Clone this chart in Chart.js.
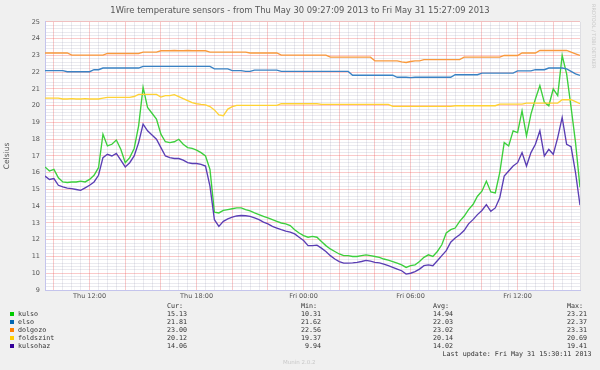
<!DOCTYPE html>
<html>
<head>
<meta charset="utf-8">
<script src="https://cdn.jsdelivr.net/npm/chart.js@4.4.0/dist/chart.umd.min.js"></script>
<style>
  html, body { margin: 0; padding: 0; background: #f0f0f0; }
  #wrap { position: relative; width: 600px; height: 370px; overflow: hidden; }
  #chart { position: absolute; left: 0; top: 0; }
  .lg { position: absolute; font-family: 'DejaVu Sans Mono', monospace; font-size: 6.7px; line-height: 8px; color: #333; white-space: pre; }
  .sw { position: absolute; width: 4px; height: 4px; }
  #rrd { position: absolute; left: 591px; top: 4px; writing-mode: vertical-rl; font-family: 'DejaVu Sans', sans-serif; font-size: 5px; line-height: 6px; color: #c8c8c8; white-space: nowrap; }
  #munin { position: absolute; left: 283px; top: 359px; font-family: 'DejaVu Sans', sans-serif; font-size: 5.5px; line-height: 7px; color: #c8c8c8; }
</style>
</head>
<body>
<div id="wrap">
  <canvas id="chart" width="600" height="370"></canvas>
  <div id="legend"></div>
  <div id="rrd">RRDTOOL / TOBI OETIKER</div>
  <div id="munin">Munin 2.0.2</div>
</div>
<script>
// hours since Thu May 30 00:00, sampled every 15 minutes
const hours = [
  9.5, 9.75, 10, 10.25, 10.5, 10.75, 11, 11.25, 11.5, 11.75,
  12, 12.25, 12.5, 12.75, 13, 13.25, 13.5, 13.75, 14, 14.25,
  14.5, 14.75, 15, 15.25, 15.5, 15.75, 16, 16.25, 16.5, 16.75,
  17, 17.25, 17.5, 17.75, 18, 18.25, 18.5, 18.75, 19, 19.25,
  19.5, 19.75, 20, 20.25, 20.5, 20.75, 21, 21.25, 21.5, 21.75,
  22, 22.25, 22.5, 22.75, 23, 23.25, 23.5, 23.75, 24, 24.25,
  24.5, 24.75, 25, 25.25, 25.5, 25.75, 26, 26.25, 26.5, 26.75,
  27, 27.25, 27.5, 27.75, 28, 28.25, 28.5, 28.75, 29, 29.25,
  29.5, 29.75, 30, 30.25, 30.5, 30.75, 31, 31.25, 31.5, 31.75,
  32, 32.25, 32.5, 32.75, 33, 33.25, 33.5, 33.75, 34, 34.25,
  34.5, 34.75, 35, 35.25, 35.5, 35.75, 36, 36.25, 36.5, 36.75,
  37, 37.25, 37.5, 37.75, 38, 38.25, 38.5, 38.75, 39, 39.25,
  39.5
];

const kulso = [
  16.35, 16.1, 16.2, 15.7, 15.45, 15.42, 15.45, 15.45, 15.5, 15.45,
  15.6, 15.85, 16.3, 18.3, 17.6, 17.7, 17.95, 17.4, 16.6, 16.9,
  17.45, 18.8, 21.1, 19.9, 19.55, 19.2, 18.3, 17.85, 17.8, 17.85,
  18.0, 17.7, 17.5, 17.45, 17.35, 17.2, 17.0, 16.2, 13.65, 13.6,
  13.75, 13.8, 13.85, 13.9, 13.9, 13.8, 13.72, 13.6, 13.5, 13.4,
  13.3, 13.2, 13.1, 13.0, 12.95, 12.85, 12.6, 12.4, 12.25, 12.15,
  12.2, 12.15, 11.9, 11.65, 11.45, 11.3, 11.15, 11.05, 11.05, 11.0,
  11.0, 11.05, 11.1, 11.05, 11.0, 10.95, 10.85, 10.78, 10.7, 10.6,
  10.5, 10.35, 10.45, 10.5, 10.7, 10.95, 11.1, 11.0, 11.3, 11.7,
  12.4, 12.6, 12.7, 13.1, 13.4, 13.8, 14.1, 14.6, 14.9, 15.5,
  14.85, 14.8, 16.0, 17.8, 17.6, 18.5, 18.4, 19.7, 18.2, 19.5,
  20.4, 21.2, 20.2, 20.0, 21.0, 20.6, 23.0, 21.9, 19.9, 17.8,
  15.13
];

const elso = [
  22.1, 22.1, 22.1, 22.1, 22.1, 22.03, 22.03, 22.03, 22.03, 22.03,
  22.03, 22.15, 22.15, 22.25, 22.25, 22.25, 22.25, 22.25, 22.25, 22.25,
  22.25, 22.25, 22.35, 22.35, 22.35, 22.35, 22.35, 22.35, 22.35, 22.35,
  22.35, 22.35, 22.35, 22.35, 22.35, 22.35, 22.35, 22.35, 22.2, 22.2,
  22.2, 22.2, 22.1, 22.1, 22.1, 22.05, 22.05, 22.13, 22.13, 22.13,
  22.13, 22.13, 22.13, 22.05, 22.05, 22.05, 22.05, 22.05, 22.05, 22.05,
  22.05, 22.05, 22.05, 22.05, 22.05, 22.05, 22.05, 22.05, 22.05, 21.82,
  21.82, 21.82, 21.82, 21.82, 21.82, 21.82, 21.82, 21.82, 21.82, 21.7,
  21.7, 21.7, 21.68, 21.7, 21.7, 21.7, 21.7, 21.7, 21.7, 21.7,
  21.7, 21.7, 21.85, 21.85, 21.85, 21.85, 21.85, 21.85, 21.95, 21.95,
  21.95, 21.95, 21.95, 21.95, 21.95, 21.95, 22.08, 22.08, 22.08, 22.08,
  22.15, 22.15, 22.15, 22.25, 22.25, 22.25, 22.25, 22.2, 22.05, 21.9,
  21.81
];

const dolgozo = [
  23.15, 23.15, 23.15, 23.15, 23.15, 23.15, 23.02, 23.02, 23.02, 23.02,
  23.02, 23.02, 23.02, 23.02, 23.12, 23.12, 23.12, 23.12, 23.12, 23.12,
  23.12, 23.12, 23.2, 23.2, 23.2, 23.2, 23.28, 23.28, 23.28, 23.3,
  23.28, 23.28, 23.3, 23.28, 23.28, 23.28, 23.28, 23.2, 23.2, 23.2,
  23.2, 23.2, 23.2, 23.2, 23.2, 23.2, 23.15, 23.15, 23.15, 23.15,
  23.15, 23.15, 23.15, 23.02, 23.02, 23.02, 23.02, 23.02, 23.02, 23.02,
  23.02, 23.02, 23.02, 23.02, 22.9, 22.9, 22.9, 22.9, 22.9, 22.9,
  22.9, 22.9, 22.9, 22.9, 22.68, 22.68, 22.68, 22.68, 22.68, 22.68,
  22.62, 22.58, 22.64, 22.68, 22.68, 22.75, 22.75, 22.75, 22.75, 22.75,
  22.75, 22.75, 22.75, 22.75, 22.9, 22.9, 22.9, 22.9, 22.9, 22.9,
  22.9, 22.9, 22.9, 23.0, 23.0, 23.0, 23.0, 23.15, 23.15, 23.15,
  23.15, 23.3, 23.3, 23.3, 23.3, 23.3, 23.3, 23.3, 23.2, 23.1,
  23.0
];

const foldszint = [
  20.45, 20.45, 20.45, 20.45, 20.4, 20.4, 20.42, 20.4, 20.4, 20.42,
  20.4, 20.4, 20.4, 20.45, 20.5, 20.5, 20.5, 20.5, 20.5, 20.5,
  20.55, 20.68, 20.68, 20.68, 20.68, 20.68, 20.52, 20.6, 20.6, 20.66,
  20.55, 20.42, 20.3, 20.18, 20.12, 20.08, 20.05, 19.95, 19.75, 19.45,
  19.4, 19.8, 19.95, 20.02, 20.02, 20.02, 20.02, 20.02, 20.02, 20.02,
  20.02, 20.02, 20.02, 20.12, 20.12, 20.12, 20.12, 20.12, 20.12, 20.12,
  20.12, 20.12, 20.08, 20.08, 20.08, 20.08, 20.08, 20.08, 20.08, 20.08,
  20.08, 20.08, 20.08, 20.08, 20.08, 20.08, 20.08, 20.08, 19.96, 19.96,
  19.96, 19.96, 19.96, 19.96, 19.96, 19.96, 19.96, 19.96, 19.96, 19.96,
  19.96, 19.96, 20.0, 20.0, 20.0, 20.0, 20.0, 20.0, 20.0, 20.0,
  20.0, 20.0, 20.1, 20.1, 20.1, 20.1, 20.1, 20.1, 20.16, 20.16,
  20.16, 20.16, 20.16, 20.16, 20.16, 20.16, 20.36, 20.36, 20.36, 20.25,
  20.12
];

const kulsohaz = [
  15.8, 15.6, 15.65, 15.25, 15.15, 15.08, 15.05, 15.0, 14.95, 15.1,
  15.25, 15.45, 15.85, 16.9, 17.1, 17.0, 17.15, 16.75, 16.35, 16.6,
  17.0, 17.8, 18.9, 18.5, 18.25, 18.0, 17.5, 17.0, 16.9, 16.85,
  16.85, 16.75, 16.6, 16.55, 16.55, 16.5, 16.4, 15.2, 13.2, 12.8,
  13.1, 13.25, 13.35, 13.42, 13.45, 13.43, 13.4, 13.3, 13.2, 13.05,
  12.95, 12.8, 12.7, 12.6, 12.52, 12.45, 12.35, 12.15, 11.95, 11.65,
  11.65, 11.68, 11.5, 11.3, 11.05, 10.85, 10.7, 10.6, 10.6, 10.62,
  10.65, 10.7, 10.77, 10.72, 10.65, 10.62, 10.55, 10.45, 10.35, 10.25,
  10.15, 9.95, 10.0, 10.1, 10.25, 10.45, 10.5, 10.45, 10.75, 11.05,
  11.35, 11.85, 12.1, 12.3, 12.55, 12.95, 13.2, 13.5, 13.75, 14.1,
  13.7, 13.9, 14.5, 15.8, 16.1, 16.4, 16.6, 17.2, 16.4, 17.2,
  17.7, 18.5, 17.0, 17.4, 17.1, 18.1, 19.3, 17.7, 17.55, 16.0,
  14.06
];

const names = ['kulso', 'elso', 'dolgozo', 'foldszint', 'kulsohaz'];
const colors = ['#00cc00', '#0066b3', '#ff8000', '#ffcc00', '#330099'];
const lineColors = ['#3ccf3c', '#3a82c4', '#f9993c', '#ffd233', '#5a3eb4'];
const curVals = ['15.13', '21.81', '23.00', '20.12', '14.06'];
const minVals = ['10.31', '21.62', '22.56', '19.37', ' 9.94'];
const avgVals = ['14.94', '22.03', '23.02', '20.14', '14.02'];
const maxVals = ['23.21', '22.37', '23.31', '20.69', '19.41'];

const xLabelHours = [12, 18, 24, 30, 36];
const xLabelText = ['Thu 12:00', 'Thu 18:00', 'Fri 00:00', 'Fri 06:00', 'Fri 12:00'];

const titleText = '1Wire temperature sensors - from Thu May 30 09:27:09 2013 to Fri May 31 15:27:09 2013';
const lastUpdate = 'Last update: Fri May 31 15:30:11 2013';

const series = [kulso, elso, dolgozo, foldszint, kulsohaz];

// white plot background
const plotBg = {
  id: 'plotBg',
  beforeDraw(chart) {
    const a = chart.chartArea;
    const c = chart.ctx;
    c.save();
    c.fillStyle = '#ffffff';
    c.fillRect(a.left, a.top, a.right - a.left, a.bottom - a.top);
    c.restore();
  }
};

const minorGrid = 'rgba(150,150,175,0.2)';
const majorGrid = 'rgba(240,80,80,0.3)';
const axisFont = { family: 'DejaVu Sans', size: 6.5 };

new Chart(document.getElementById('chart'), {
  type: 'line',
  data: {
    datasets: names.map((n, i) => ({
      label: n,
      data: hours.map((h, j) => ({ x: h, y: series[i][j] })),
      borderColor: lineColors[i],
      borderWidth: 1.35,
      pointRadius: 0,
      tension: 0,
      fill: false,
      order: names.length - i
    }))
  },
  options: {
    responsive: false,
    animation: false,
    events: [],
    layout: { padding: { left: 0, right: 0, top: 0, bottom: 66 } },
    plugins: {
      legend: { display: false },
      tooltip: { enabled: false },
      title: {
        display: true,
        text: titleText,
        color: '#555',
        font: { family: 'DejaVu Sans', size: 8.4, weight: 'normal' },
        padding: { top: 5.5, bottom: 6.4 }
      }
    },
    scales: {
      x: {
        type: 'linear',
        min: 9.5,
        max: 39.5,
        afterBuildTicks(s) {
          s.ticks = [];
          for (let i = 19; i <= 79; i++) s.ticks.push({ value: i / 2 });
        },
        afterFit(s) { s.height = 14; },
        grid: {
          drawTicks: false,
          color: c => (c.tick && c.tick.value % 2 === 0) ? majorGrid : minorGrid
        },
        border: { color: '#c4c4ec' },
        ticks: {
          autoSkip: false,
          maxRotation: 0,
          padding: 2,
          color: '#555',
          font: axisFont,
          callback: v => {
            const k = xLabelHours.indexOf(v);
            return k >= 0 ? xLabelText[k] : '';
          }
        }
      },
      y: {
        min: 9,
        max: 25,
        afterBuildTicks(s) {
          s.ticks = [];
          for (let i = 45; i <= 125; i++) s.ticks.push({ value: i / 5 });
        },
        afterFit(s) { s.width = 45; },
        title: {
          display: true,
          text: 'Celsius',
          color: '#555',
          font: { family: 'DejaVu Sans', size: 7.5 },
          padding: { top: 2.5, bottom: 0 }
        },
        grid: {
          drawTicks: false,
          color: c => (c.tick && Number.isInteger(c.tick.value)) ? majorGrid : minorGrid
        },
        border: { color: '#c4c4ec' },
        ticks: {
          autoSkip: false,
          padding: 5,
          color: '#555',
          font: axisFont,
          callback: v => Number.isInteger(v) ? String(v) : ''
        }
      },
      y2: {
        position: 'right',
        afterFit(s) { s.width = 20; },
        grid: { display: false },
        border: { display: false },
        ticks: { display: false }
      }
    }
  },
  plugins: [plotBg]
});

// munin style legend table under the plot
const lg = document.getElementById('legend');
function addText(txt, left, centerY) {
  const d = document.createElement('div');
  d.className = 'lg';
  d.textContent = txt;
  d.style.left = left + 'px';
  d.style.top = (centerY - 4) + 'px';
  lg.appendChild(d);
}
const colX = [167, 301, 433, 567];
addText('Cur:', colX[0], 305.5);
addText('Min:', colX[1], 305.5);
addText('Avg:', colX[2], 305.5);
addText('Max:', colX[3], 305.5);
names.forEach((n, i) => {
  const cy = 314 + 8.1 * i;
  const sw = document.createElement('div');
  sw.className = 'sw';
  sw.style.left = '9.5px';
  sw.style.top = (cy - 2) + 'px';
  sw.style.background = colors[i];
  lg.appendChild(sw);
  addText(n, 18, cy);
  addText(curVals[i], colX[0], cy);
  addText(minVals[i], colX[1], cy);
  addText(avgVals[i], colX[2], cy);
  addText(maxVals[i], colX[3], cy);
});
addText(lastUpdate, 442.5, 354.3);
</script>
</body>
</html>
